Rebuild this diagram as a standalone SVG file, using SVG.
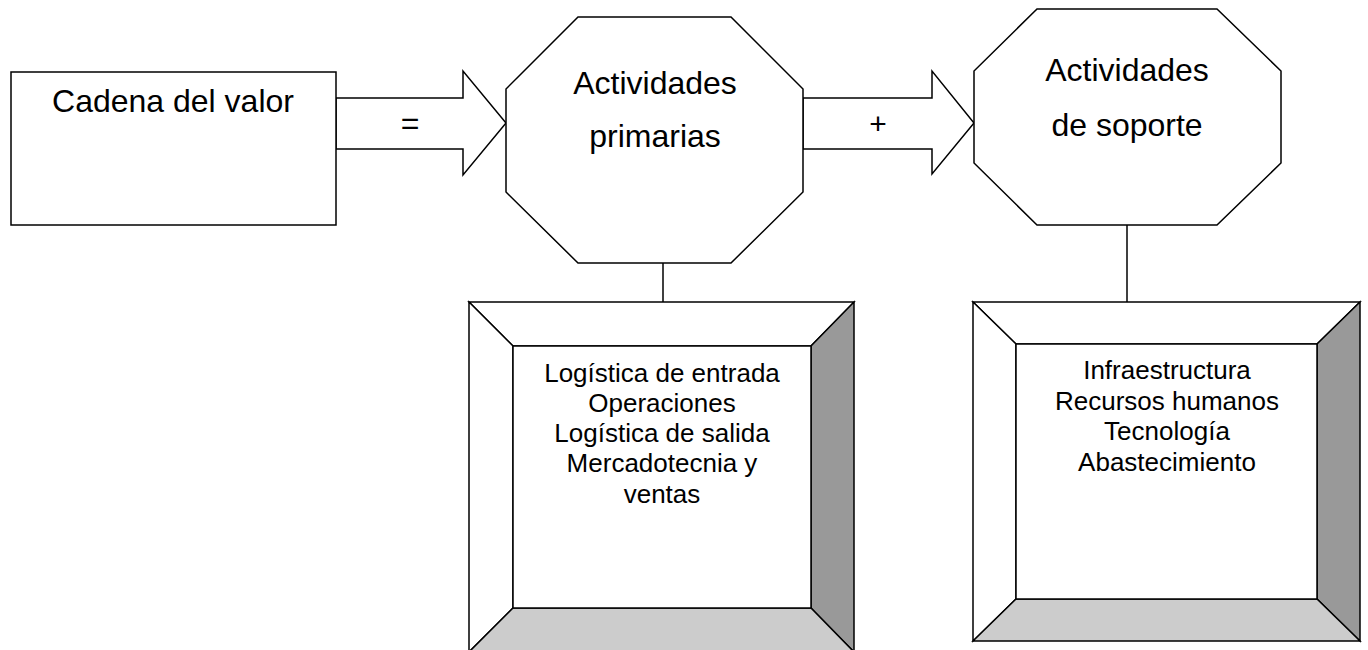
<svg xmlns="http://www.w3.org/2000/svg" width="1368" height="650" viewBox="0 0 1368 650">
<style>
.s{stroke:#000;stroke-width:1.5;stroke-linejoin:miter}
.w{fill:#fff}
.d{fill:#999999}
.l{fill:#cccccc}
.t{font-family:"Liberation Sans",Arial,sans-serif;fill:#000;text-anchor:middle}
.h{font-size:32px}
.b{font-size:26px}
</style>
<rect width="1368" height="650" fill="#fff"/>
<g id="connectors">
<polygon class="s w" points="336,98 463,98 463,71 506,123 463,175 463,149 336,149"/>
<text class="t h" x="410" y="134">=</text>
<polygon class="s w" points="803,98 932,98 932,71 974,123 932,174 932,149 803,149"/>
<text class="t" style="font-size:30px" x="878" y="134">+</text>
<line class="s" x1="663" y1="263" x2="663" y2="302"/>
<line class="s" x1="1127" y1="225" x2="1127" y2="302"/>
</g>
<g id="cadena">
<rect class="s w" x="11" y="72" width="325" height="153"/>
<text class="t h" x="173" y="112">Cadena del valor</text>
</g>
<g id="primarias">
<polygon class="s w" points="578,17 731,17 803,89 803,192 731,263 578,263 506,192 506,89"/>
<text class="t h" x="655" y="94">Actividades</text>
<text class="t h" x="655" y="147">primarias</text>
</g>
<g id="soporte">
<polygon class="s w" points="1037,9 1217,9 1281,71 1281,163 1217,225 1037,225 974,163 974,71"/>
<text class="t h" x="1127" y="81">Actividades</text>
<text class="t h" x="1127" y="136">de soporte</text>
</g>
<g id="lista-primarias">
<polygon class="s w" points="469,302 854,302 811,346 513,346"/>
<polygon class="s w" points="469,302 513,346 513,608 469,652"/>
<polygon class="s d" points="854,302 854,652 811,608 811,346"/>
<polygon class="s l" points="469,652 513,608 811,608 854,652"/>
<rect class="s w" x="513" y="346" width="298" height="262"/>
<text class="t b" x="662" y="382">Logística de entrada</text>
<text class="t b" x="662" y="412">Operaciones</text>
<text class="t b" x="662" y="442">Logística de salida</text>
<text class="t b" x="662" y="472">Mercadotecnia y</text>
<text class="t b" x="662" y="503">ventas</text>
</g>
<g id="lista-soporte">
<polygon class="s w" points="973,302 1360,302 1317,344 1016,344"/>
<polygon class="s w" points="973,302 1016,344 1016,599 973,641"/>
<polygon class="s d" points="1360,302 1360,641 1317,599 1317,344"/>
<polygon class="s l" points="973,641 1016,599 1317,599 1360,641"/>
<rect class="s w" x="1016" y="344" width="301" height="255"/>
<text class="t b" x="1167" y="379">Infraestructura</text>
<text class="t b" x="1167" y="410">Recursos humanos</text>
<text class="t b" x="1167" y="440">Tecnología</text>
<text class="t b" x="1167" y="471">Abastecimiento</text>
</g>
</svg>
